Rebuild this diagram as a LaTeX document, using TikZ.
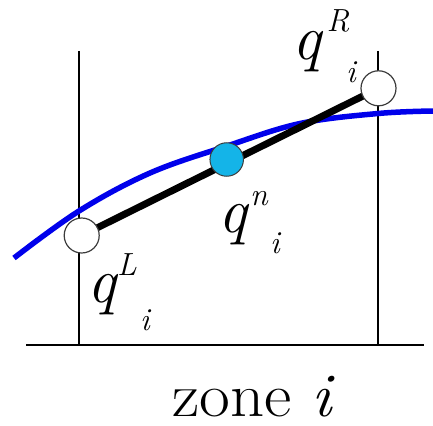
\documentclass[tikz,border=0pt]{standalone}
\definecolor{curveblue}{RGB}{0,0,235}
\definecolor{dotcyan}{RGB}{20,180,232}
\definecolor{rimgray}{RGB}{60,60,60}
\newcommand\qlbl[4]{\fontsize{64}{64}\selectfont\itshape q\rlap{\hspace{#2pt}\raisebox{27.5pt}{\fontsize{32}{32}\selectfont #1}}\hspace{#3pt}\raisebox{-#4pt}{\fontsize{32}{32}\selectfont i}}
\begin{document}
\begin{tikzpicture}[x=1pt,y=-1pt,
  wall/.style={line width=1.5pt, black},
  baseline/.style={line width=2pt, black},
  curve/.style={line width=5.5pt, curveblue},
  recon/.style={line width=7pt, black},
  face/.style={circle, draw=rimgray, line width=1.2pt, fill=white, minimum size=35pt, inner sep=0pt},
  center/.style={circle, draw=rimgray, line width=1pt, fill=dotcyan, minimum size=33.5pt, inner sep=0pt},
  lbl/.style={anchor=base west, inner sep=0pt}]
\useasboundingbox (0,0) rectangle (433,425);
% grid lines
\coordinate (lt) at (79,51);
\coordinate (lb) at (79,345);
\coordinate (rt) at (378,51);
\coordinate (rb) at (378,345);
\coordinate (b0) at (26,345);
\coordinate (b1) at (424,345);
\draw[wall] (lt) -- (lb);
\draw[wall] (rt) -- (rb);
\draw[baseline] (b0) -- (b1);
% blue curve
\draw[curve] plot[smooth, tension=0.6] coordinates {(14,258) (79,211) (150,173) (227,146) (300,123.5) (378,113.5) (433,111)};
% reconstruction segment
\coordinate (cL) at (81.7,235.5);
\coordinate (cR) at (378.5,88.3);
\draw[recon] (cL) -- (cR);
% nodes
\node[face] (qL) at (cL) {};
\node[face] (qR) at (cR) {};
\node[center] (qn) at (226.7,159.5) {};
% labels
\node[lbl] (labR) at (292,59.5) {\qlbl{R}{5.5}{25}{23.5}};
\node[lbl] (labL) at (87,302.5) {\qlbl{L}{1}{24}{27.5}};
\node[lbl] (labn) at (218,232.5) {\qlbl{n}{3}{23}{20.5}};
\node[lbl] (zone) at (172,416) {\scalebox{1.08}[1]{\fontsize{62}{62}\selectfont zone \textit{i}}};
\end{tikzpicture}
\end{document}
